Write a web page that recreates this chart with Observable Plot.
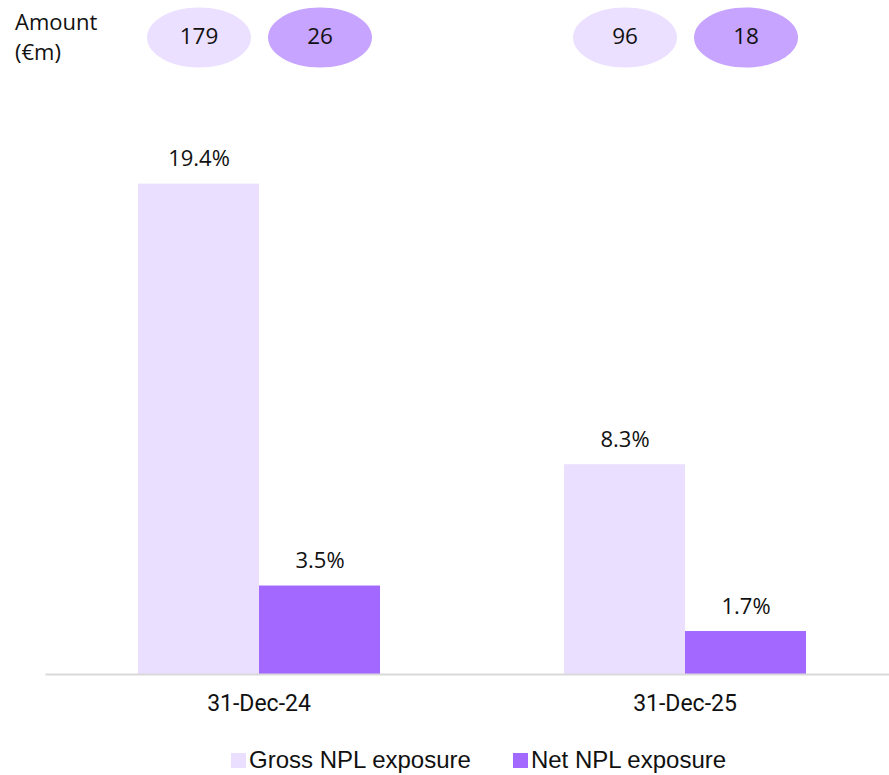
<!DOCTYPE html>
<html>
<head>
<meta charset="utf-8">
<script src="https://cdn.jsdelivr.net/npm/d3@7"></script>
<script src="https://cdn.jsdelivr.net/npm/@observablehq/plot@0.6"></script>
<style>
  body { margin: 0; background: #fff; }
  #wrap { position: relative; width: 889px; height: 775px; }
  #amount { position: absolute; left: 15px; top: 6px; font: 22px "Open Sans", "Noto Sans", sans-serif; line-height: 30px; color: #111; }
  #legend { position: absolute; left: 231px; top: 746px; display: flex; align-items: center; font: 24px "Liberation Sans", Arial, sans-serif; color: #111; }
  #legend .item { display: flex; align-items: center; }
  #legend .sw { width: 15px; height: 15px; margin-right: 3px; }
</style>
</head>
<body>
<div id="wrap">
  <div id="chart"></div>
  <div id="amount">Amount<br>(€m)</div>
  <div id="legend"></div>
</div>
<script>
const dates = ["31-Dec-24", "31-Dec-25"];
const series = ["Gross NPL exposure", "Net NPL exposure"];
const grossPct = [19.4, 8.3];
const netPct = [3.5, 1.7];
const grossAmt = [179, 96];
const netAmt = [26, 18];

const barColors = ["#EADFFF", "#A268FF"];
const pillColors = ["#EBE0FF", "#C6A4FF"];

const rows = [];
dates.forEach((d, i) => {
  rows.push({date: d, series: series[0], pct: grossPct[i], amt: grossAmt[i]});
  rows.push({date: d, series: series[1], pct: netPct[i], amt: netAmt[i]});
});

const ellipse = {
  draw(ctx) {
    const rx = 52, ry = 30, k = 0.5523;
    ctx.moveTo(rx, 0);
    ctx.bezierCurveTo(rx, ry * k, rx * k, ry, 0, ry);
    ctx.bezierCurveTo(-rx * k, ry, -rx, ry * k, -rx, 0);
    ctx.bezierCurveTo(-rx, -ry * k, -rx * k, -ry, 0, -ry);
    ctx.bezierCurveTo(rx * k, -ry, rx, -ry * k, rx, 0);
    ctx.closePath();
  }
};

const chart = Plot.plot({
  width: 889,
  height: 730,
  marginLeft: 46,
  marginRight: 0,
  marginTop: 80,
  marginBottom: 56,
  style: {fontFamily: "Roboto, sans-serif", color: "#111", background: "#fff"},
  fx: {domain: dates, paddingInner: 0.43, paddingOuter: 0.204, align: 0.523, axis: null, label: null},
  x: {domain: series, padding: 0, axis: null},
  y: {domain: [0, 23.5], axis: null},
  color: {domain: series, range: barColors},
  marks: [
    Plot.barY(rows, {fx: "date", x: "series", y: "pct", fill: "series"}),
    Plot.frame({anchor: "bottom", facet: "super", stroke: "#D9D9D9", strokeWidth: 2, insetLeft: -91, insetRight: -83}),
    Plot.text(rows, {fx: "date", x: "series", y: "pct", text: d => d.pct.toFixed(1) + "%", dy: -25, fontSize: 22, fontFamily: "'Open Sans', 'Noto Sans', sans-serif", fill: "#111"}),
    Plot.dot(rows, {fx: "date", x: "series", frameAnchor: "top", dy: -43, symbol: ellipse, r: 10, fill: (d) => pillColors[series.indexOf(d.series)], stroke: null}),
    Plot.text(rows, {fx: "date", x: "series", frameAnchor: "top", lineAnchor: "middle", dy: -44, text: d => String(d.amt), fontSize: 22.5, fontFamily: "'Open Sans', 'Noto Sans', sans-serif", fill: "#111"}),
    Plot.axisFx({anchor: "bottom", tickSize: 0, tickPadding: 20, fontSize: 23, fontFamily: "Roboto, sans-serif", label: null, fill: "#111"})
  ]
});
document.getElementById("chart").appendChild(chart);

const legend = document.getElementById("legend");
series.forEach((s, i) => {
  const item = document.createElement("div");
  item.className = "item";
  item.style.marginRight = i === 0 ? "42px" : "0";
  const sw = document.createElement("div");
  sw.className = "sw";
  sw.style.background = barColors[i];
  const lab = document.createElement("span");
  lab.textContent = s;
  item.appendChild(sw);
  item.appendChild(lab);
  legend.appendChild(item);
});
</script>
</body>
</html>
